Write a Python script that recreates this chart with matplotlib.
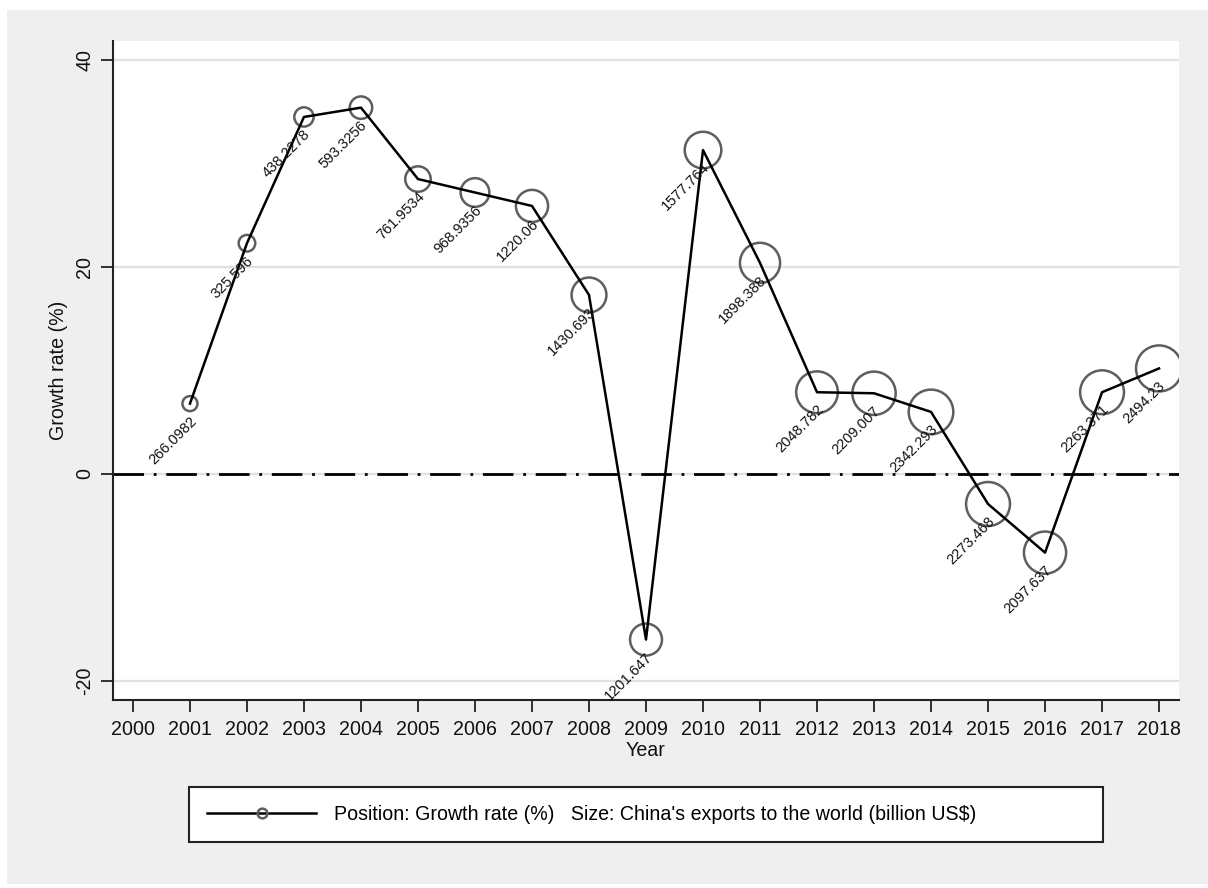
import numpy as np
import matplotlib
matplotlib.use("Agg")
import matplotlib.pyplot as plt
from matplotlib import font_manager
from matplotlib.lines import Line2D
from matplotlib.patches import Rectangle

# data
years = [2001, 2002, 2003, 2004, 2005, 2006, 2007, 2008, 2009,
         2010, 2011, 2012, 2013, 2014, 2015, 2016, 2017, 2018]
growth = [6.8, 22.3, 34.5, 35.4, 28.5, 27.2, 25.9, 17.3, -16.0,
          31.3, 20.4, 7.9, 7.8, 6.0, -2.9, -7.6, 7.9, 10.2]
exports = [266.0982, 325.596, 438.2278, 593.3256, 761.9534, 968.9356,
           1220.06, 1430.693, 1201.647, 1577.764, 1898.388, 2048.782,
           2209.007, 2342.293, 2273.468, 2097.637, 2263.371, 2494.23]
xticks = list(range(2000, 2019))
yticks = [-20, 0, 20, 40]

# narrow Arial look-alike if present
names = {f.name for f in font_manager.fontManager.ttflist}
if "Liberation Sans Narrow" in names:
    fam, k = "Liberation Sans Narrow", 1.0
else:
    fam, k = "Liberation Sans", 0.84
plt.rcParams["font.family"] = fam

bg = "#efefef"
grid = "#e1e1e1"
ring = "#5e5e5e"

fig = plt.figure(figsize=(12.08, 8.88), dpi=100)
fig.patch.set_facecolor("white")
fig.patches.append(Rectangle((7 / 1208, 4 / 888), 1 - 7 / 1208, 874 / 888,
                             transform=fig.transFigure, facecolor=bg,
                             edgecolor="none", zorder=-10))

ax = fig.add_axes([113 / 1208, 188 / 888, 1066 / 1208, 659 / 888])
ax.set_facecolor("white")

for yv in [-20, 20, 40]:
    ax.axhline(yv, color=grid, lw=1.6, zorder=1)
ax.axhline(0, color=grid, lw=1.6, zorder=1)
ax.axhline(0, color="black", lw=2, linestyle=(0, (11, 3.5, 1, 3.5)), zorder=2)

sizes = 0.44 * np.array(exports)
ax.scatter(years, growth, s=sizes, facecolors="none", edgecolors=ring,
           linewidths=1.8, zorder=3)
ax.plot(years, growth, color="black", lw=1.8, zorder=4)

for x, y, v in zip(years, growth, exports):
    ax.annotate(str(v), (x, y), xytext=(3, -11), textcoords="offset points",
                rotation=45, rotation_mode="anchor", ha="right", va="center",
                fontsize=12.5 * k, color="#111111", zorder=5)

ax.set_xlim(1999.65, 2018.35)
ax.set_ylim(-21.84, 41.84)
ax.set_xticks(xticks)
ax.set_yticks(yticks)
ax.set_yticklabels([str(t) for t in yticks], rotation=90, va="center")
ax.tick_params(axis="both", length=8.5, width=1.3, color="#222222",
               labelsize=16.8 * k, labelcolor="#111111")
ax.tick_params(axis="y", pad=5)
ax.tick_params(axis="x", pad=6)

for side in ["top", "right"]:
    ax.spines[side].set_visible(False)
for side in ["left", "bottom"]:
    ax.spines[side].set_color("#222222")
    ax.spines[side].set_linewidth(1.5)

ax.set_xlabel("Year", fontsize=16.8 * k, color="#111111", labelpad=1)
ax.set_ylabel("Growth rate (%)", fontsize=16.8 * k, color="#111111", labelpad=5)

handle = Line2D([], [], color="black", lw=1.8, marker="o", markersize=7,
                markerfacecolor="none", markeredgecolor=ring, markeredgewidth=1.8)
leg = fig.legend([handle],
                 ["Position: Growth rate (%)   Size: China's exports to the world (billion US$)"],
                 loc="center left", bbox_to_anchor=(189 / 1208, 0.0828, 914 / 1208, 0.0),
                 mode="expand", frameon=True, fancybox=False, edgecolor="#222222",
                 fontsize=16.8 * k, handlelength=5.6, handletextpad=0.9,
                 borderpad=0.9, borderaxespad=0)
leg.get_frame().set_linewidth(1.5)
leg.get_frame().set_facecolor("white")
leg.get_frame().set_alpha(1)

plt.savefig("out.png", dpi=100, facecolor=fig.get_facecolor())
